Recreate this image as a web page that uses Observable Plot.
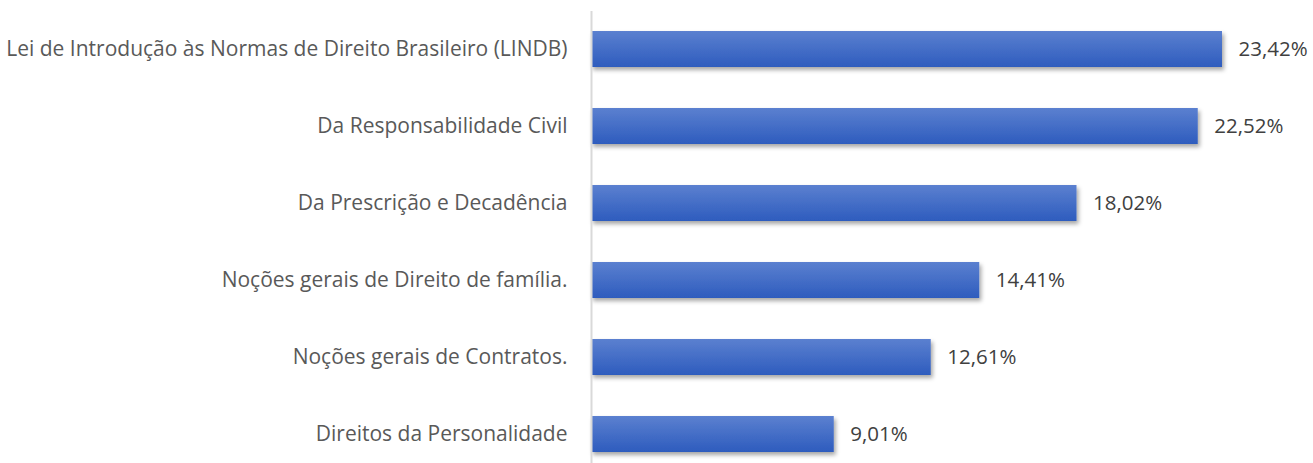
<!DOCTYPE html>
<html>
<head>
<meta charset="utf-8">
<script src="https://cdn.jsdelivr.net/npm/d3@7"></script>
<script src="https://cdn.jsdelivr.net/npm/@observablehq/plot@0.6"></script>
<style>
  html, body { margin: 0; padding: 0; background: #fff; }
  svg { display: block; }
</style>
</head>
<body>
<div id="chart"></div>
<script>
const categories = [
  "Lei de Introdução às Normas de Direito Brasileiro (LINDB)",
  "Da Responsabilidade Civil",
  "Da Prescrição e Decadência",
  "Noções gerais de Direito de família.",
  "Noções gerais de Contratos.",
  "Direitos da Personalidade"
];
const values = [23.42, 22.52, 18.02, 14.41, 12.61, 9.01];
const valueLabels = ["23,42%", "22,52%", "18,02%", "14,41%", "12,61%", "9,01%"];

const data = categories.map((c, i) => ({category: c, value: values[i], label: valueLabels[i]}));

const FONT = "'Open Sans', sans-serif";

const plot = Plot.plot({
  width: 1313,
  height: 463,
  marginLeft: 591,
  marginRight: 91,
  marginTop: 11,
  marginBottom: 0,
  style: {fontFamily: FONT, fontSize: "21px", background: "#fff", overflow: "visible"},
  x: {domain: [0, 23.42], axis: null},
  y: {domain: categories, range: [10.5, 472.5], paddingInner: 0.53, paddingOuter: 0.265, label: null, tickSize: 0, tickPadding: 24},
  marks: [
    Plot.axisY({tickSize: 0, tickPadding: 24, fill: "#595959", fontSize: 21, label: null}),
    Plot.barX(data, {x: "value", y: "category", fill: "url(#barGrad)"}),
    Plot.ruleX([0], {stroke: "#d9d9d9", strokeWidth: 2}),
    Plot.text(data, {x: "value", y: "category", text: "label", textAnchor: "start", dx: 16, fill: "#404040", fontSize: 20.5})
  ]
});

const svgNS = "http://www.w3.org/2000/svg";
const defs = document.createElementNS(svgNS, "defs");
defs.innerHTML = `
  <linearGradient id="barGrad" x1="0" y1="0" x2="0" y2="1">
    <stop offset="0" stop-color="#5b80d0"/>
    <stop offset="1" stop-color="#2e5cbe"/>
  </linearGradient>
  <filter id="barShadow" x="-5%" y="-20%" width="115%" height="160%">
    <feDropShadow dx="2" dy="3" stdDeviation="2" flood-color="#000" flood-opacity="0.35"/>
  </filter>`;
plot.insertBefore(defs, plot.firstChild);
plot.querySelectorAll("g[aria-label='bar'] rect").forEach(r => r.setAttribute("filter", "url(#barShadow)"));

document.getElementById("chart").appendChild(plot);
</script>
</body>
</html>
